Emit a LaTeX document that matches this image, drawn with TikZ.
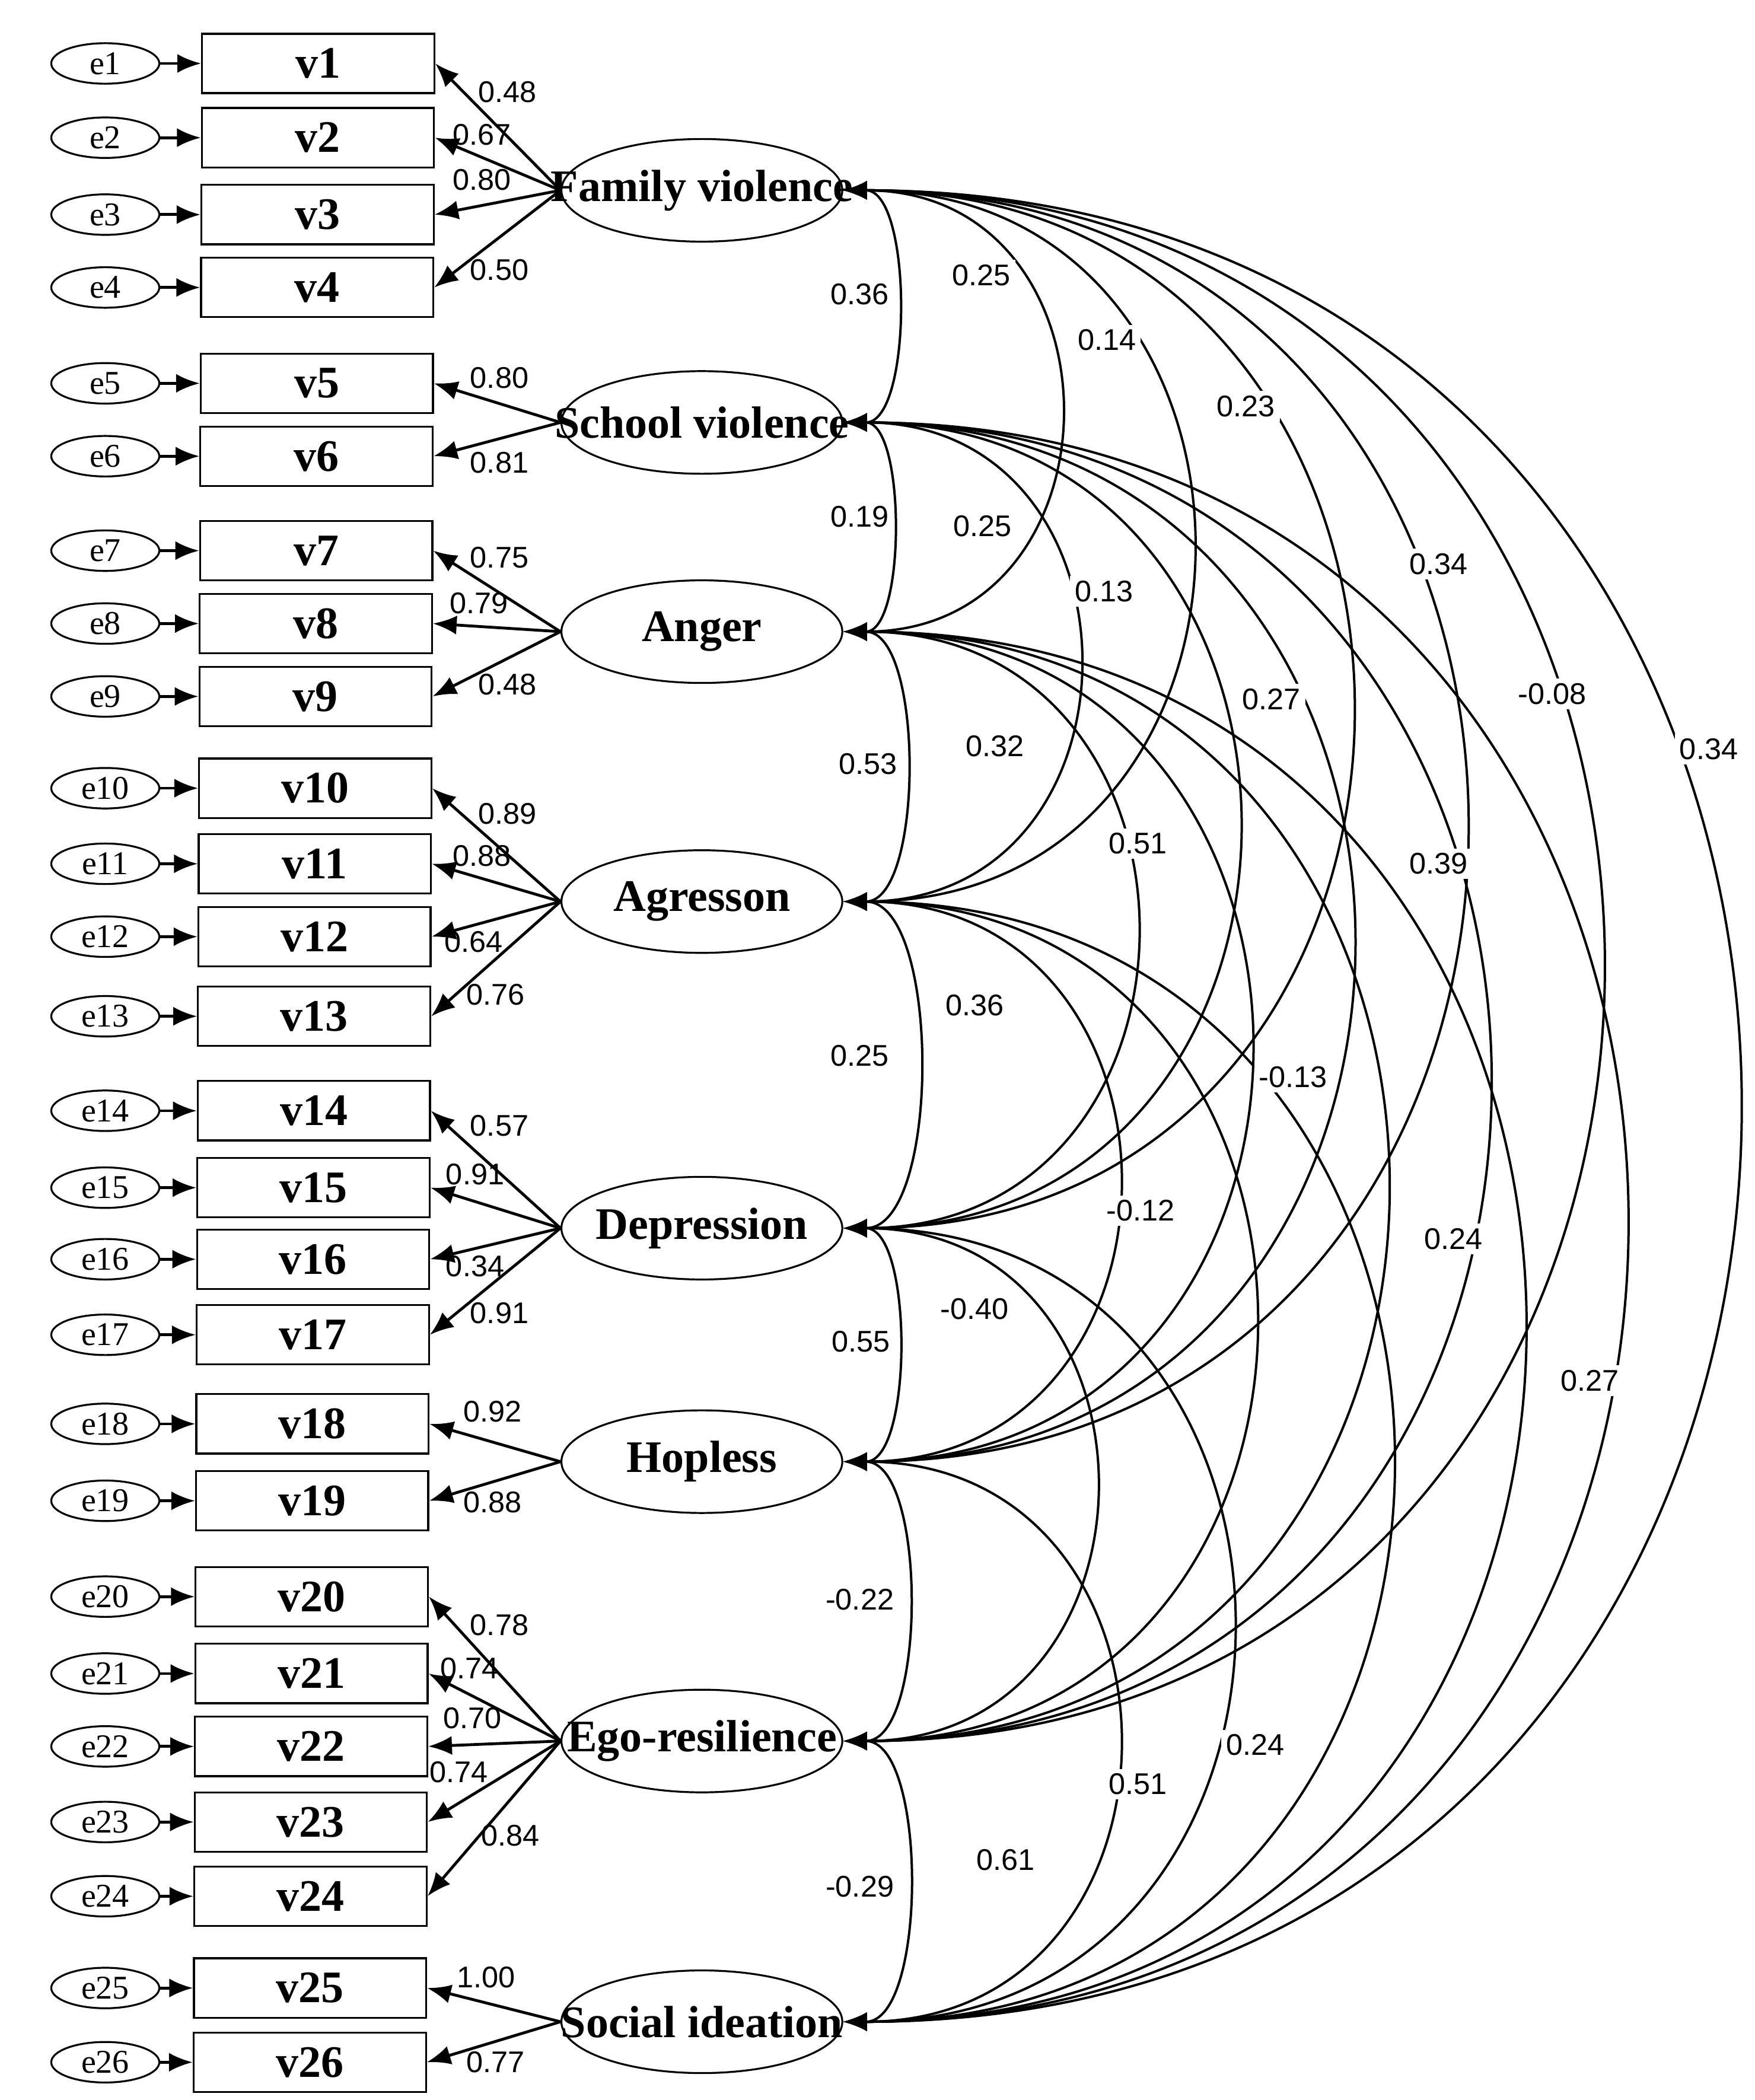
\documentclass[tikz,border=0pt]{standalone}
\usepackage{fontspec}
\setmainfont{Liberation Serif}
\newfontfamily\lab{Liberation Sans}
\usetikzlibrary{arrows.meta,shapes.geometric}
\begin{document}
\begin{tikzpicture}[x=0.01cm,y=-0.01cm,
 lat/.style={draw,ellipse,minimum width=2.08cm,minimum height=0.76cm,inner sep=0,label={[font=\fontsize{9.5}{11}\selectfont\bfseries]center:#1}},
 obs/.style={draw,rectangle,minimum width=1.72cm,minimum height=0.44cm,inner sep=0,font=\fontsize{9.5}{11}\selectfont\bfseries},
 err/.style={draw,ellipse,minimum width=0.8cm,minimum height=0.3cm,inner sep=0,font=\fontsize{7}{8}\selectfont},
 lbl/.style={font=\lab\fontsize{6.3}{7}\selectfont,inner sep=0},
 arr/.style={-{Latex[length=5pt,width=4pt]},line width=0.6pt},
 cov/.style={{Latex[length=5pt,width=4pt]}-{Latex[length=5pt,width=4pt]},line width=0.5pt}]
\useasboundingbox (0,0) rectangle (1300,1556);
\node[lat=Family violence] (L0) at (520,141) {};
\node[lat=School violence] (L1) at (520,313) {};
\node[lat=Anger] (L2) at (520,468) {};
\node[lat=Agresson] (L3) at (520,668) {};
\node[lat=Depression] (L4) at (520,910) {};
\node[lat=Hopless] (L5) at (520,1083) {};
\node[lat=Ego-resilience] (L6) at (520,1290) {};
\node[lat=Social ideation] (L7) at (520,1498) {};
\foreach \i/\y/\L in {1/47/0,2/102/0,3/159/0,4/213/0,5/284/1,6/338/1,7/408/2,8/462/2,9/516/2,10/584/3,11/640/3,12/694/3,13/753/3,14/823/4,15/880/4,16/933/4,17/989/4,18/1055/5,19/1112/5,20/1183/6,21/1240/6,22/1294/6,23/1350/6,24/1405/6,25/1473/7,26/1528/7}{
 \pgfmathsetmacro\bx{236-\i*0.25}
 \node[obs] (v\i) at (\bx,\y) {v\i};
 \node[err] (e\i) at (78,\y) {e\i};
 \draw[arr] (e\i) -- (v\i);
 \draw[arr] (L\L.west) -- (v\i.east);
}
\foreach \t/\x/\y in {0.48/376/68,0.67/357/100,0.80/357/133,0.50/370/200,0.80/370/280,0.81/370/343,0.75/370/413,0.79/355/447,0.48/376/507,0.89/376/603,0.88/357/634,0.64/351/698,0.76/367/737,0.57/370/834,0.91/352/870,0.34/352/938,0.91/370/973,0.92/365/1046,0.88/365/1113,0.78/370/1204,0.74/348/1236,0.70/350/1273,0.74/340/1313,0.84/378/1360,1.00/360/1465,0.77/367/1528}
 \node[lbl] at (\x,\y) {\t};
\def\ys{{141,313,468,668,910,1083,1290,1498}}
\foreach \i in {0,...,6}{
 \pgfmathtruncatemacro\js{\i+1}
 \foreach \j in {\js,...,7}{
  \pgfmathsetmacro\k{ifthenelse(\j==\i+1,0.3,0.65)*(\ys[\j]-\ys[\i])}
  \draw[cov] (L\i.east) .. controls ([xshift=\k*0.01cm]L\i.east) and ([xshift=\k*0.01cm]L\j.east) .. (L\j.east);
 }}
\foreach \t/\x/\y in {0.36/637/218,0.25/727/204,0.14/820/252,0.23/923/301,0.34/1066/418,-0.08/1150/514,0.34/1266/555,0.19/637/383,0.25/728/390,0.13/818/438,0.27/942/518,0.39/1066/640,0.27/1178/1023,0.53/643/566,0.32/737/553,0.51/843/625,-0.13/958/798,0.24/1077/918,0.25/637/782,0.36/722/745,-0.12/845/897,0.24/930/1293,0.55/638/994,-0.40/722/970,0.51/843/1322,-0.22/637/1185,0.61/745/1378,-0.29/637/1398}
 \node[lbl,fill=white,inner sep=1pt] at (\x,\y) {\t};
\end{tikzpicture}
\end{document}
